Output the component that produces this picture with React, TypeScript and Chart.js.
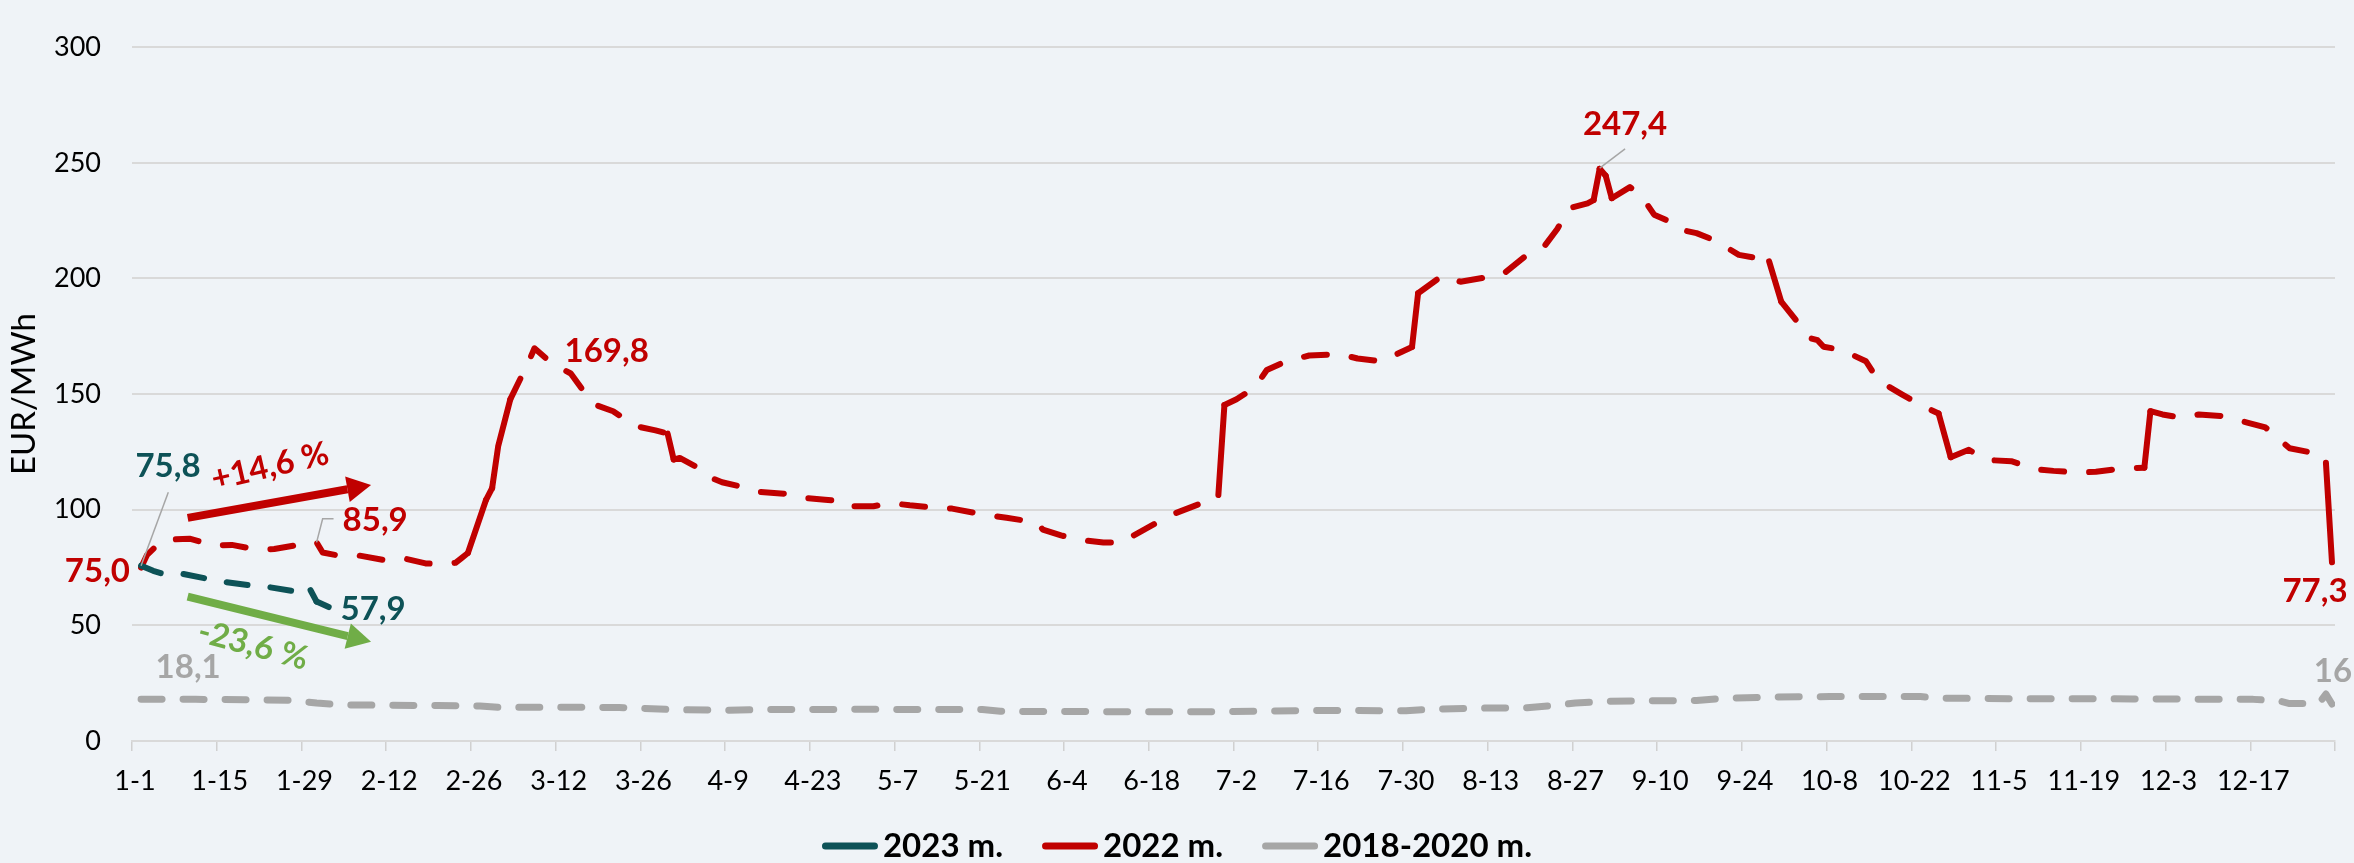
import React, { useEffect, useRef } from 'react';
import { Chart, registerables } from 'chart.js';

Chart.register(...registerables);

const FONT = "Lato, 'Open Sans', 'DejaVu Sans', sans-serif";
const BG = '#EFF3F7';
const TEAL = '#0D5257';
const RED = '#C00000';
const GRAY = '#A6A6A6';
const GREEN = '#70AD47';
const LEADER = '#A6A6A6';

// Category axis: 364 days (1-1 .. 12-30), labels every 14 days
const tickLabels = ['1-1', '1-15', '1-29', '2-12', '2-26', '3-12', '3-26', '4-9', '4-23', '5-7', '5-21', '6-4', '6-18', '7-2', '7-16', '7-30', '8-13', '8-27', '9-10', '9-24', '10-8', '10-22', '11-5', '11-19', '12-3', '12-17'];
const DAY_COUNT = 364;
const TICK_STEP = 14;

const seriesLabels = ['2023 m.', '2022 m.', '2018-2020 m.'];

// 2023 (day index from 1-1, EUR/MWh)
const days2023 = [1, 3, 5, 8, 12, 15, 19, 22, 26, 29, 30, 32];
const values2023 = [75.8, 73.6, 72.0, 72.2, 70.1, 68.7, 67.3, 66.6, 64.9, 65.2, 60.3, 57.9];

// 2022
const days2022 = [1, 2, 4, 6, 9, 13, 16, 20, 23, 27, 30, 31, 34, 37, 41, 44, 48, 51, 53, 54, 55, 58, 59, 60, 62, 65, 66, 69, 72, 74, 76, 79, 81, 83, 86, 88, 89, 90, 93, 94, 97, 100, 103, 108, 111, 114, 117, 118, 122, 125, 128, 132, 135, 140, 144, 149, 150, 153, 156, 160, 163, 165, 168, 171, 176, 179, 180, 182, 185, 187, 190, 194, 199, 202, 206, 208, 211, 212, 216, 219, 223, 226, 230, 233, 235, 237, 240, 241, 242, 243, 244, 247, 249, 251, 254, 255, 258, 261, 265, 268, 270, 272, 275, 277, 278, 279, 282, 286, 288, 292, 295, 298, 300, 303, 306, 310, 314, 317, 321, 324, 328, 332, 333, 335, 338, 341, 345, 349, 352, 356, 360, 362, 363];
const values2022 = [75.0, 80.5, 85.5, 87.1, 87.5, 84.5, 84.8, 82.8, 83.0, 84.8, 85.9, 81.5, 80.0, 80.2, 78.3, 79.2, 76.8, 76.4, 77.1, 79.2, 81.3, 104.3, 109.3, 127.4, 147.7, 163.8, 169.8, 163.0, 158.9, 151.7, 145.4, 142.6, 139.1, 136.0, 134.3, 132.9, 121.7, 122.4, 118.2, 115.0, 111.9, 110.1, 107.8, 106.8, 105.0, 104.3, 103.6, 101.5, 101.5, 102.9, 101.9, 101.0, 100.5, 98.0, 96.5, 94.5, 91.4, 88.9, 87.0, 85.8, 85.8, 88.9, 93.2, 97.6, 102.6, 106.4, 145.3, 147.8, 152.8, 160.4, 164.0, 166.7, 167.3, 165.4, 164.2, 166.7, 170.4, 193.6, 201.2, 198.6, 200.4, 201.8, 210.2, 214.4, 221.4, 230.4, 232.5, 233.9, 247.4, 244.4, 234.7, 239.5, 235.3, 227.6, 224.1, 221.3, 219.6, 216.5, 210.2, 208.8, 207.4, 190.0, 180.2, 174.0, 173.3, 170.5, 169.1, 164.2, 156.0, 149.8, 145.3, 141.6, 122.7, 125.9, 121.5, 121.0, 117.5, 116.8, 116.1, 116.4, 117.8, 118.2, 142.6, 141.2, 139.8, 141.2, 140.5, 137.7, 135.6, 126.6, 124.5, 120.3, 77.3];

// 2018-2020 average
const daysBase = [1, 10, 20, 26, 30, 34, 40, 50, 57, 60, 70, 80, 84, 90, 97, 105, 120, 140, 143, 146, 160, 175, 185, 195, 210, 214, 222, 230, 234, 238, 243, 250, 258, 262, 270, 280, 295, 299, 310, 330, 350, 354, 356, 359, 361, 362, 363];
const valuesBase = [18.1, 18.0, 17.8, 17.6, 16.4, 15.6, 15.5, 15.3, 15.1, 14.6, 14.6, 14.5, 14.1, 13.5, 13.3, 13.6, 13.7, 13.6, 12.9, 12.8, 12.7, 12.6, 12.9, 13.2, 13.1, 13.7, 14.2, 14.4, 15.3, 16.4, 17.2, 17.4, 17.5, 18.4, 19.0, 19.2, 19.2, 18.5, 18.3, 18.2, 18.0, 17.5, 16.2, 16.2, 16.8, 20.3, 16.0];

// annotation texts
const labelTexts = {
  start2023: '75,8', start2022: '75,0', mid2022: '85,9', end2023: '57,9',
  peakMar: '169,8', peakAug: '247,4', end2022: '77,3', startBase: '18,1', endBase: '16',
  up: '+14,6 %', down: '-23,6 %',
};

const toPoints = (d: number[], v: number[]) => d.map((x, i) => ({ x, y: v[i] }));

const backgroundPlugin = {
  id: 'bg',
  beforeDraw(chart: any) {
    const { ctx, width, height } = chart;
    ctx.save();
    ctx.fillStyle = BG;
    ctx.fillRect(0, 0, width, height);
    ctx.restore();
  },
};

function drawArrow(ctx: CanvasRenderingContext2D, x0: number, y0: number, x1: number, y1: number, color: string) {
  const w = 8, headLen = 24, headHalf = 13;
  const a = Math.atan2(y1 - y0, x1 - x0);
  const bx = x1 - headLen * Math.cos(a);
  const by = y1 - headLen * Math.sin(a);
  ctx.strokeStyle = color;
  ctx.lineWidth = w;
  ctx.lineCap = 'butt';
  ctx.setLineDash([]);
  ctx.beginPath();
  ctx.moveTo(x0, y0);
  ctx.lineTo(bx, by);
  ctx.stroke();
  ctx.fillStyle = color;
  ctx.beginPath();
  ctx.moveTo(x1, y1);
  ctx.lineTo(bx + headHalf * Math.sin(a), by - headHalf * Math.cos(a));
  ctx.lineTo(bx - headHalf * Math.sin(a), by + headHalf * Math.cos(a));
  ctx.closePath();
  ctx.fill();
}

const annotationPlugin = {
  id: 'annotations',
  afterDatasetsDraw(chart: any) {
    const { ctx } = chart;
    const xs = chart.scales.x, ys = chart.scales.y;
    const px = (d: number) => xs.getPixelForValue(d);
    const py = (v: number) => ys.getPixelForValue(v);
    ctx.save();

    // arrows (data coordinates)
    drawArrow(ctx, px(8.7), py(96.5), px(39), py(110.7), RED);
    drawArrow(ctx, px(8.7), py(62.4), px(39), py(42.9), GREEN);

    // leader lines
    ctx.strokeStyle = LEADER;
    ctx.lineWidth = 1.5;
    ctx.lineCap = 'butt';
    ctx.beginPath();
    ctx.moveTo(px(5.5), py(107.6));
    ctx.lineTo(px(days2023[0]), py(values2023[0]));
    ctx.stroke();
    ctx.beginPath();
    ctx.moveTo(px(32.8), py(96.1));
    ctx.lineTo(px(31), py(96.1));
    ctx.lineTo(px(days2022[10]), py(values2022[10]));
    ctx.stroke();
    ctx.beginPath();
    ctx.moveTo(px(246.2), py(256));
    ctx.lineTo(px(242), py(247.7));
    ctx.stroke();

    // labels
    ctx.font = `bold 33px ${FONT}`;
    ctx.textBaseline = 'middle';
    const put = (t: string, d: number, v: number, color: string, align: CanvasTextAlign, rot = 0) => {
      ctx.save();
      ctx.fillStyle = color;
      ctx.textAlign = align;
      ctx.translate(px(d), py(v));
      if (rot) ctx.rotate((rot * Math.PI) / 180);
      ctx.fillText(t, 0, 0);
      ctx.restore();
    };
    put(labelTexts.start2023, 5.45, 118.7, TEAL, 'center');
    put(labelTexts.start2022, -0.83, 73.5, RED, 'right');
    put(labelTexts.mid2022, 34.3, 95.2, RED, 'left');
    put(labelTexts.end2023, 33.96, 56.8, TEAL, 'left');
    put(labelTexts.peakMar, 70.97, 168.3, RED, 'left');
    put(labelTexts.peakAug, 246.2, 266.5, RED, 'center');
    put(labelTexts.end2022, 360.2, 64.5, RED, 'center');
    put(labelTexts.startBase, 3.4, 31.8, GRAY, 'left');
    put(labelTexts.endBase, 360, 30.1, GRAY, 'left');
    put(labelTexts.up, 22.3, 118.7, RED, 'center', -13);
    put(labelTexts.down, 19.5, 41.4, GREEN, 'center', 15);
    ctx.restore();
  },
};

const legendPlugin = {
  id: 'customLegend',
  afterDraw(chart: any) {
    const { ctx, width } = chart;
    const ds = chart.data.datasets;
    const sample = 56, gapText = 5, gapItem = 39, cy = 846;
    ctx.save();
    ctx.font = `bold 33px ${FONT}`;
    ctx.textBaseline = 'middle';
    ctx.textAlign = 'left';
    const widths = ds.map((d: any) => sample + gapText + ctx.measureText(d.label).width);
    const total = widths.reduce((a: number, b: number) => a + b, 0) + gapItem * (ds.length - 1);
    let x = width / 2 - total / 2;
    ds.forEach((d: any, i: number) => {
      ctx.strokeStyle = d.borderColor;
      ctx.lineWidth = 7;
      ctx.lineCap = 'round';
      ctx.setLineDash([]);
      ctx.beginPath();
      ctx.moveTo(x + 3.5, cy);
      ctx.lineTo(x + sample - 3.5, cy);
      ctx.stroke();
      ctx.fillStyle = '#000';
      ctx.fillText(d.label, x + sample + gapText, cy);
      x += widths[i] + gapItem;
    });
    ctx.restore();
  },
};

const steep = (limit: number) => (ctx: any) => {
  const dx = ctx.p1.parsed.x - ctx.p0.parsed.x;
  const dy = ctx.p1.parsed.y - ctx.p0.parsed.y;
  return Math.abs(dy / dx) > limit ? [] : undefined;
};

export default function App() {
  const ref = useRef<HTMLCanvasElement>(null);
  useEffect(() => {
    document.body.style.margin = '0';
    document.body.style.background = BG;
    const canvas = ref.current!;
    const chart = new Chart(canvas, {
      type: 'line',
      data: {
        datasets: [
          {
            label: seriesLabels[0],
            data: toPoints(days2023, values2023),
            borderColor: TEAL,
            borderWidth: 6,
            borderDash: [21, 23],
            borderCapStyle: 'round',
            borderJoinStyle: 'round',
            pointRadius: 0,
            tension: 0,
            segment: { borderDash: steep(2) },
          },
          {
            label: seriesLabels[1],
            data: toPoints(days2022, values2022),
            borderColor: RED,
            borderWidth: 6,
            borderDash: [23, 25],
            borderCapStyle: 'round',
            borderJoinStyle: 'round',
            pointRadius: 0,
            tension: 0,
            segment: { borderDash: steep(6) },
          },
          {
            label: seriesLabels[2],
            data: toPoints(daysBase, valuesBase),
            borderColor: GRAY,
            borderWidth: 7,
            borderDash: [21, 21],
            borderCapStyle: 'round',
            borderJoinStyle: 'round',
            pointRadius: 0,
            tension: 0,
          },
        ],
      } as any,
      options: {
        animation: false,
        responsive: false,
        devicePixelRatio: 1,
        layout: { padding: { top: 23, right: 19, bottom: 0, left: 0 } },
        plugins: { legend: { display: false }, tooltip: { enabled: false } },
        scales: {
          x: {
            type: 'linear',
            min: -0.5,
            max: DAY_COUNT - 0.5,
            afterBuildTicks: (scale: any) => {
              const t = [];
              for (let k = 0; k * TICK_STEP <= DAY_COUNT; k++) t.push({ value: k * TICK_STEP - 0.5 });
              scale.ticks = t;
            },
            afterFit: (scale: any) => { scale.height = 122; },
            ticks: {
              autoSkip: false,
              maxRotation: 0,
              minRotation: 0,
              padding: 14,
              labelOffset: 3,
              color: '#000',
              font: { family: FONT, size: 27 },
              callback: (_v: any, i: number) => tickLabels[i] ?? '',
            },
            grid: { drawOnChartArea: false, drawTicks: true, tickLength: 10, color: '#D0D0D0', lineWidth: 1.5 },
            border: { display: true, color: '#D9D9D9', width: 2 },
          },
          y: {
            min: 0,
            max: 300,
            afterFit: (scale: any) => { scale.width = 132; },
            ticks: { stepSize: 50, padding: 31, color: '#000', font: { family: FONT, size: 27 } },
            grid: { color: '#D9D9D9', lineWidth: 2, drawTicks: false },
            border: { display: false },
            title: { display: true, text: 'EUR/MWh', color: '#000', font: { family: FONT, size: 33 }, padding: { top: 5, bottom: 0 } },
          },
        },
      } as any,
      plugins: [backgroundPlugin, annotationPlugin, legendPlugin],
    });
    let alive = true;
    if ((document as any).fonts?.load) {
      Promise.all([
        (document as any).fonts.load(`bold 33px Lato`),
        (document as any).fonts.load(`27px Lato`),
      ]).then(() => { if (alive) chart.update(); }).catch(() => {});
    }
    return () => { alive = false; chart.destroy(); };
  }, []);
  return <canvas ref={ref} width={2354} height={863} style={{ display: 'block', width: 2354, height: 863 }} />;
}
